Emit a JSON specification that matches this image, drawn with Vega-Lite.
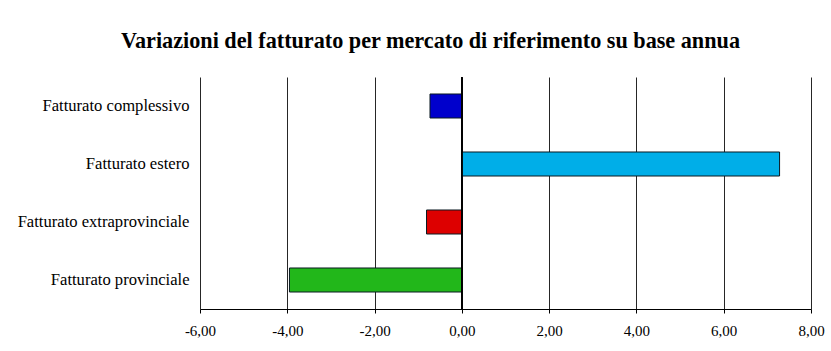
{
  "$schema": "https://vega.github.io/schema/vega-lite/v6.json",
  "autosize": "none",
  "width": 611,
  "height": 232,
  "padding": {"left": 200, "top": 77, "right": 20, "bottom": 42},
  "background": "white",
  "config": {
    "locale": {"number": {"decimal": ",", "thousands": ".", "grouping": [3], "currency": ["€", ""], "minus": "-"}},
    "view": {"stroke": null},
    "font": "Liberation Serif"
  },
  "title": {
    "text": "Variazioni del fatturato per mercato di riferimento su base annua",
    "font": "Liberation Serif",
    "fontSize": 22.2,
    "fontWeight": "bold",
    "color": "#000000",
    "anchor": "middle",
    "frame": "group",
    "dx": -75,
    "offset": 24
  },
  "data": {
    "values": [
      {"mercato": "Fatturato complessivo", "variazione": -0.73},
      {"mercato": "Fatturato estero", "variazione": 7.28},
      {"mercato": "Fatturato extraprovinciale", "variazione": -0.81},
      {"mercato": "Fatturato provinciale", "variazione": -3.95}
    ]
  },
  "layer": [
    {
      "mark": {"type": "bar", "stroke": "#0a1a22", "strokeWidth": 1},
      "encoding": {
        "y": {
          "field": "mercato",
          "type": "nominal",
          "sort": ["Fatturato complessivo", "Fatturato estero", "Fatturato extraprovinciale", "Fatturato provinciale"],
          "scale": {"paddingInner": 0.586, "paddingOuter": 0.293},
          "axis": {
            "title": null,
            "domain": false,
            "ticks": false,
            "labelPadding": 11,
            "labelFontSize": 16.6,
            "labelFont": "Liberation Serif",
            "labelColor": "#000000",
            "labelLimit": 300
          }
        },
        "x": {
          "field": "variazione",
          "type": "quantitative",
          "scale": {"domain": [-6, 8], "nice": false, "zero": false},
          "axis": {
            "title": null,
            "values": [-6, -4, -2, 0, 2, 4, 6, 8],
            "format": ".2f",
            "grid": true,
            "gridColor": "#000000",
            "gridOpacity": 0.85,
            "gridWidth": 1,
            "domain": true,
            "domainColor": "#000000",
            "domainWidth": 1.2,
            "ticks": true,
            "tickColor": "#000000",
            "tickSize": 4,
            "labelPadding": 10,
            "labelFontSize": 15,
            "labelFont": "Liberation Serif",
            "labelColor": "#000000",
            "labelFlush": false
          }
        },
        "color": {
          "field": "mercato",
          "type": "nominal",
          "scale": {
            "domain": ["Fatturato complessivo", "Fatturato estero", "Fatturato extraprovinciale", "Fatturato provinciale"],
            "range": ["#0000CC", "#00AEE8", "#DD0000", "#22B71A"]
          },
          "legend": null
        }
      }
    },
    {
      "mark": {"type": "rule", "color": "#000000", "strokeWidth": 1.2},
      "encoding": {"x": {"datum": 0}}
    }
  ]
}
